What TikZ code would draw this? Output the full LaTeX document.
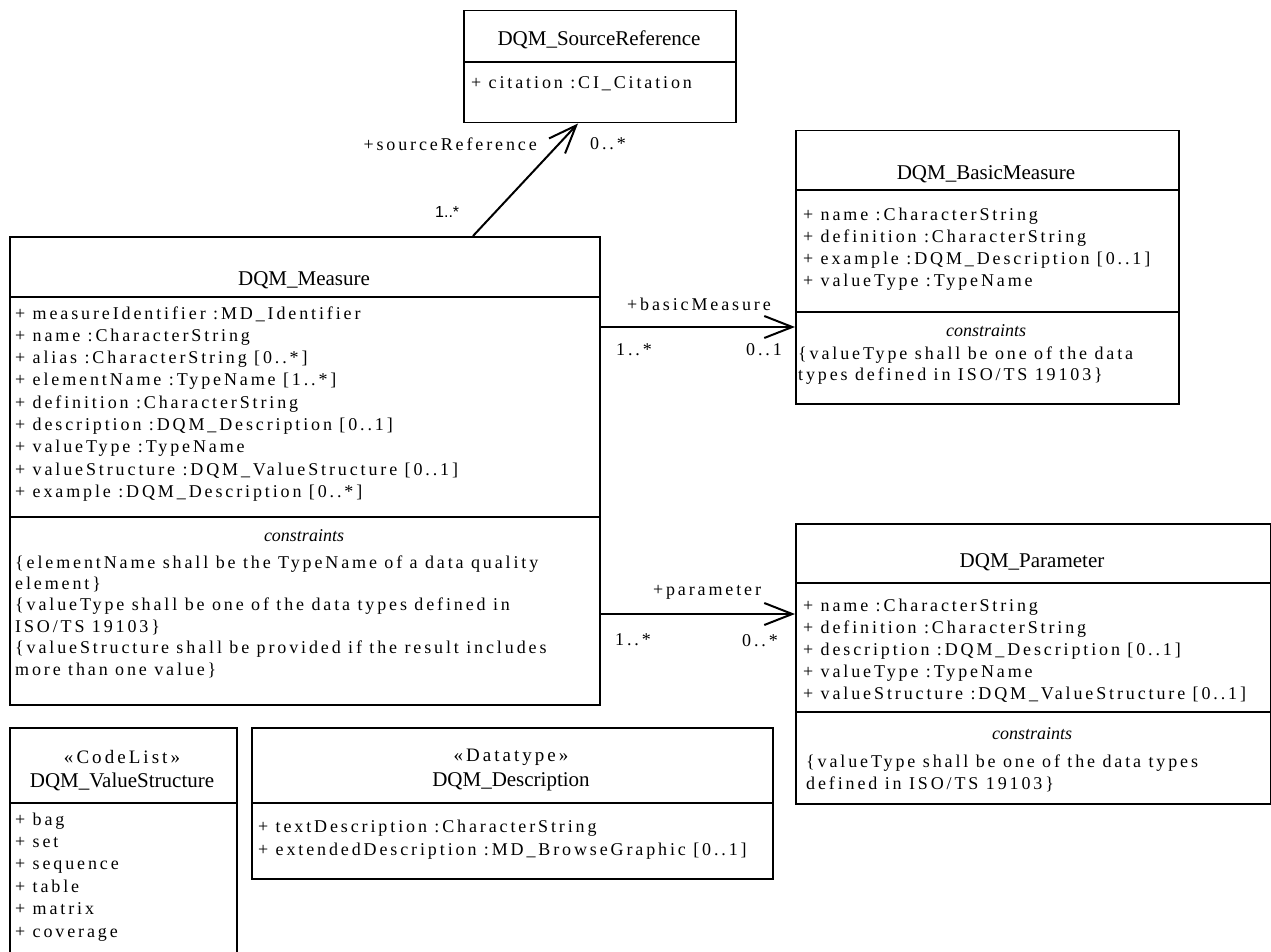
\documentclass[tikz,border=0pt]{standalone}
\usepackage{fontspec}
\setmainfont{Liberation Serif}
\newfontfamily\attrfont[LetterSpace=16]{Liberation Serif}
\newfontfamily\multsans{Liberation Sans}
\usetikzlibrary{arrows.meta, calc}

\tikzset{
  classbox/.style={draw, line width=1.5pt, anchor=north west, inner sep=0pt},
  compart/.style={line width=1.5pt},
  classtitle/.style={font=\fontsize{21}{24}\selectfont, inner sep=0pt},
  stereo/.style={font=\attrfont\fontsize{19}{22}\selectfont, inner sep=0pt},
  attr/.style={font=\attrfont\fontsize{18}{21}\selectfont, anchor=base west, inner sep=0pt},
  constr/.style={font=\itshape\fontsize{18}{21}\selectfont, inner sep=0pt},
  role/.style={font=\attrfont\fontsize{18}{21}\selectfont, inner sep=0pt},
  assoc/.style={line width=2pt, -{Straight Barb[length=28pt, width=22pt, line width=2pt]}},
}

\begin{document}
\begin{tikzpicture}[x=1pt, y=-1pt]
  \useasboundingbox[fill=white] (0,0) rectangle (1271,952);

  % class boxes
  \node[classbox, minimum width=272pt, minimum height=112pt] (srcref) at (463,10) {};
  \node[classbox, minimum width=590pt, minimum height=468pt] (measure) at (9,236) {};
  \node[classbox, minimum width=383pt, minimum height=273pt] (basic) at (795,130) {};
  \node[classbox, minimum width=475pt, minimum height=280pt] (param) at (795,523) {};
  \node[classbox, minimum width=227pt, minimum height=240pt] (valstruct) at (9,727) {};
  \node[classbox, minimum width=521pt, minimum height=151pt] (descr) at (251,727) {};

  % compartments
  \draw[compart] ($(srcref.north west)+(0,52)$) -- +(272,0);
  \draw[compart] ($(measure.north west)+(0,61)$) -- +(590,0);
  \draw[compart] ($(measure.north west)+(0,281)$) -- +(590,0);
  \draw[compart] ($(basic.north west)+(0,60)$) -- +(383,0);
  \draw[compart] ($(basic.north west)+(0,182)$) -- +(383,0);
  \draw[compart] ($(param.north west)+(0,60)$) -- +(475,0);
  \draw[compart] ($(param.north west)+(0,189)$) -- +(475,0);
  \draw[compart] ($(valstruct.north west)+(0,76)$) -- +(227,0);
  \draw[compart] ($(descr.north west)+(0,76)$) -- +(521,0);

  % DQM_SourceReference
  \node[classtitle] at (599,40) {DQM\_SourceReference};
  \node[attr] at (471,89) {+ citation :CI\_Citation};

  % DQM_Measure
  \node[classtitle] at (304,280) {DQM\_Measure};
  \foreach \txt [count=\i from 0] in {{+ measureIdentifier :MD\_Identifier},
      {+ name :CharacterString}, {+ alias :CharacterString [0..*]},
      {+ elementName :TypeName [1..*]}, {+ definition :CharacterString},
      {+ description :DQM\_Description [0..1]}, {+ valueType :TypeName},
      {+ valueStructure :DQM\_ValueStructure [0..1]},
      {+ example :DQM\_Description [0..*]}}
    \node[attr] at (15,319+22.3*\i) {\txt};
  \node[constr] at (304,536) {constraints};
  \foreach \txt [count=\i from 0] in {{\{elementName shall be the TypeName of a data quality},
      {element\}}, {\{valueType shall be one of the data types defined in},
      {ISO/TS 19103\}}, {\{valueStructure shall be provided if the result includes},
      {more than one value\}}}
    \node[attr] at (15,568+21.4*\i) {\txt};

  % DQM_BasicMeasure
  \node[classtitle] at (986,174) {DQM\_BasicMeasure};
  \foreach \txt [count=\i from 0] in {{+ name :CharacterString},
      {+ definition :CharacterString}, {+ example :DQM\_Description [0..1]},
      {+ valueType :TypeName}}
    \node[attr] at (803,221+21.7*\i) {\txt};
  \node[constr] at (986,331) {constraints};
  \node[attr] at (798,359) {\{valueType shall be one of the data};
  \node[attr] at (798,380) {types defined in ISO/TS 19103\}};

  % DQM_Parameter
  \node[classtitle] at (1032,562) {DQM\_Parameter};
  \foreach \txt [count=\i from 0] in {{+ name :CharacterString},
      {+ definition :CharacterString}, {+ description :DQM\_Description [0..1]},
      {+ valueType :TypeName}, {+ valueStructure :DQM\_ValueStructure [0..1]}}
    \node[attr] at (803,611+22*\i) {\txt};
  \node[constr] at (1032,734) {constraints};
  \node[attr] at (806,767) {\{valueType shall be one of the data types};
  \node[attr] at (806,789) {defined in ISO/TS 19103\}};

  % DQM_ValueStructure
  \node[stereo] at (122,757) {«CodeList»};
  \node[classtitle] at (122,782) {DQM\_ValueStructure};
  \foreach \txt [count=\i from 0] in {bag, set, sequence, table, matrix, coverage}
    \node[attr] at (15,825+22.4*\i) {+ \txt};

  % DQM_Description
  \node[stereo] at (511,757) {«Datatype»};
  \node[classtitle] at (511,782) {DQM\_Description};
  \node[attr] at (258,832) {+ textDescription :CharacterString};
  \node[attr] at (258,855) {+ extendedDescription :MD\_BrowseGraphic [0..1]};

  % associations
  \coordinate (srcFoot) at ($(measure.north west)+(464,0)$);
  \coordinate (srcHead) at ($(srcref.south west)+(115,0)$);
  \coordinate (basicIn) at ($(basic.north west)+(0,197)$);
  \coordinate (paramIn) at ($(param.north west)+(0,91)$);
  \draw[assoc] (srcFoot) -- (srcHead);
  \draw[assoc] (measure.east |- basicIn) -- (basicIn);
  \draw[assoc] (measure.east |- paramIn) -- (paramIn);

  % roles and multiplicities
  \node[role, anchor=base east] at (537,151) {+sourceReference};
  \node[role, anchor=base west] at (590,150) {0..*};
  \node[font=\multsans\fontsize{16}{20}\selectfont, anchor=base west, inner sep=0pt] at (435,218) {1..*};
  \node[role, anchor=base] at (699,310) {+basicMeasure};
  \node[role, anchor=base west] at (616,355) {1..*};
  \node[role, anchor=base east] at (782,355) {0..1};
  \node[role, anchor=base] at (707,595) {+parameter};
  \node[role, anchor=base west] at (615,645) {1..*};
  \node[role, anchor=base east] at (778,646) {0..*};
\end{tikzpicture}
\end{document}
